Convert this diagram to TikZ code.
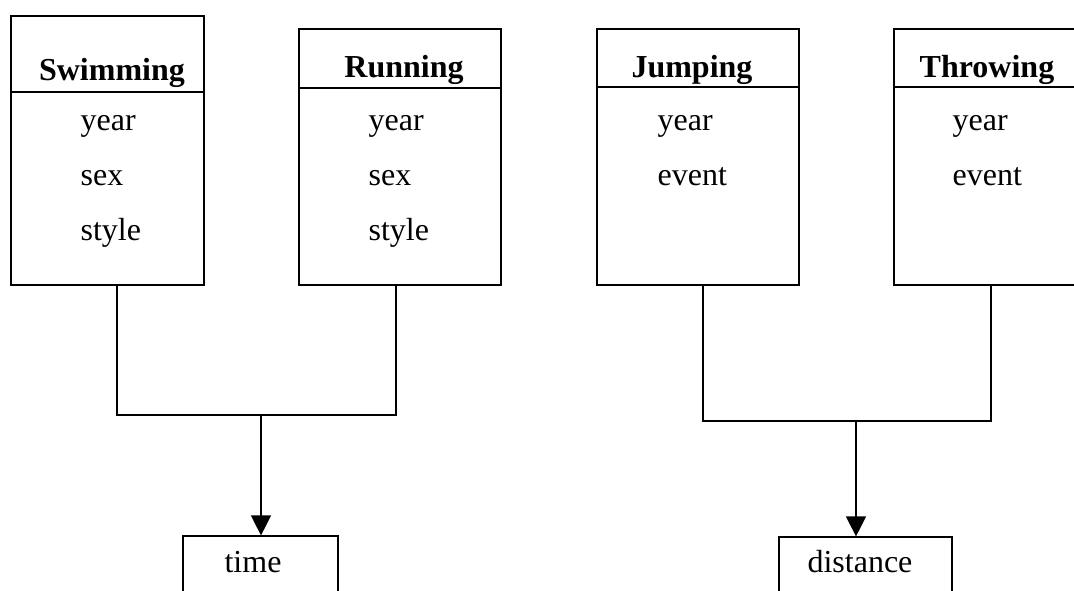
\documentclass[tikz,border=0pt]{standalone}
\usepackage{fontspec}
\setmainfont{Liberation Serif}
\usetikzlibrary{fit,arrows.meta}
\begin{document}
\begin{tikzpicture}[x=0.75pt,y=-0.75pt,
  line width=0.9pt,
  box/.style={draw,inner sep=0pt,fit={#1}},
  ttl/.style={anchor=base,font=\fontsize{24}{28}\selectfont\bfseries,inner sep=0pt},
  attr/.style={anchor=base west,font=\fontsize{24}{28}\selectfont,inner sep=0pt},
  val/.style={anchor=base,font=\fontsize{24}{28}\selectfont,inner sep=0pt},
  arr/.style={-{Triangle[length=15pt,width=15pt]}}]
\clip (0,0) rectangle (1074,590);
\fill[white] (0,0) rectangle (1074,590);
% entity boxes
\node[box={(11,16) (204,285)}] (swim) {};
\node[box={(299,29) (501,285)}] (run) {};
\node[box={(597,29) (799,285)}] (jump) {};
\node[box={(894,29) (1090,285)}] (throw) {};
% dividers
\draw (swim.west |- 0,92) -- (swim.east |- 0,92);
\draw (run.west |- 0,88) -- (run.east |- 0,88);
\draw (jump.west |- 0,87) -- (jump.east |- 0,87);
\draw (throw.west |- 0,87) -- (throw.east |- 0,87);
% titles
\node[ttl] (tswim) at (112,80) {Swimming};
\node[ttl] (trun) at (404,77) {Running};
\node[ttl] (tjump) at (692,77) {Jumping};
\node[ttl] (tthrow) at (987,77) {Throwing};
% attributes
\node[attr] (s1) at (80,130) {year};
\node[attr] (s2) at (80,185) {sex};
\node[attr] (s3) at (80,240) {style};
\node[attr] (r1) at (368,130) {year};
\node[attr] (r2) at (368,185) {sex};
\node[attr] (r3) at (368,240) {style};
\node[attr] (j1) at (657,130) {year};
\node[attr] (j2) at (657,185) {event};
\node[attr] (w1) at (952,130) {year};
\node[attr] (w2) at (952,185) {event};
% result boxes
\node[box={(183,536) (338,620)}] (time) {};
\node[box={(779,537) (952,620)}] (dist) {};
\node[val] (ttime) at (253,572) {time};
\node[val] (tdist) at (860,572) {distance};
% connectors
\coordinate (sb) at (swim.south -| 117,0);
\coordinate (rb) at (run.south -| 396,0);
\coordinate (jb) at (jump.south -| 703,0);
\coordinate (wb) at (throw.south -| 991,0);
\coordinate (k1) at (261,415);
\coordinate (k2) at (856,421);
\draw (sb) |- (k1) -| (rb);
\draw (jb) |- (k2) -| (wb);
\draw[arr] (k1) -- (k1 |- time.north);
\draw[arr] (k2) -- (k2 |- dist.north);
\end{tikzpicture}
\end{document}
